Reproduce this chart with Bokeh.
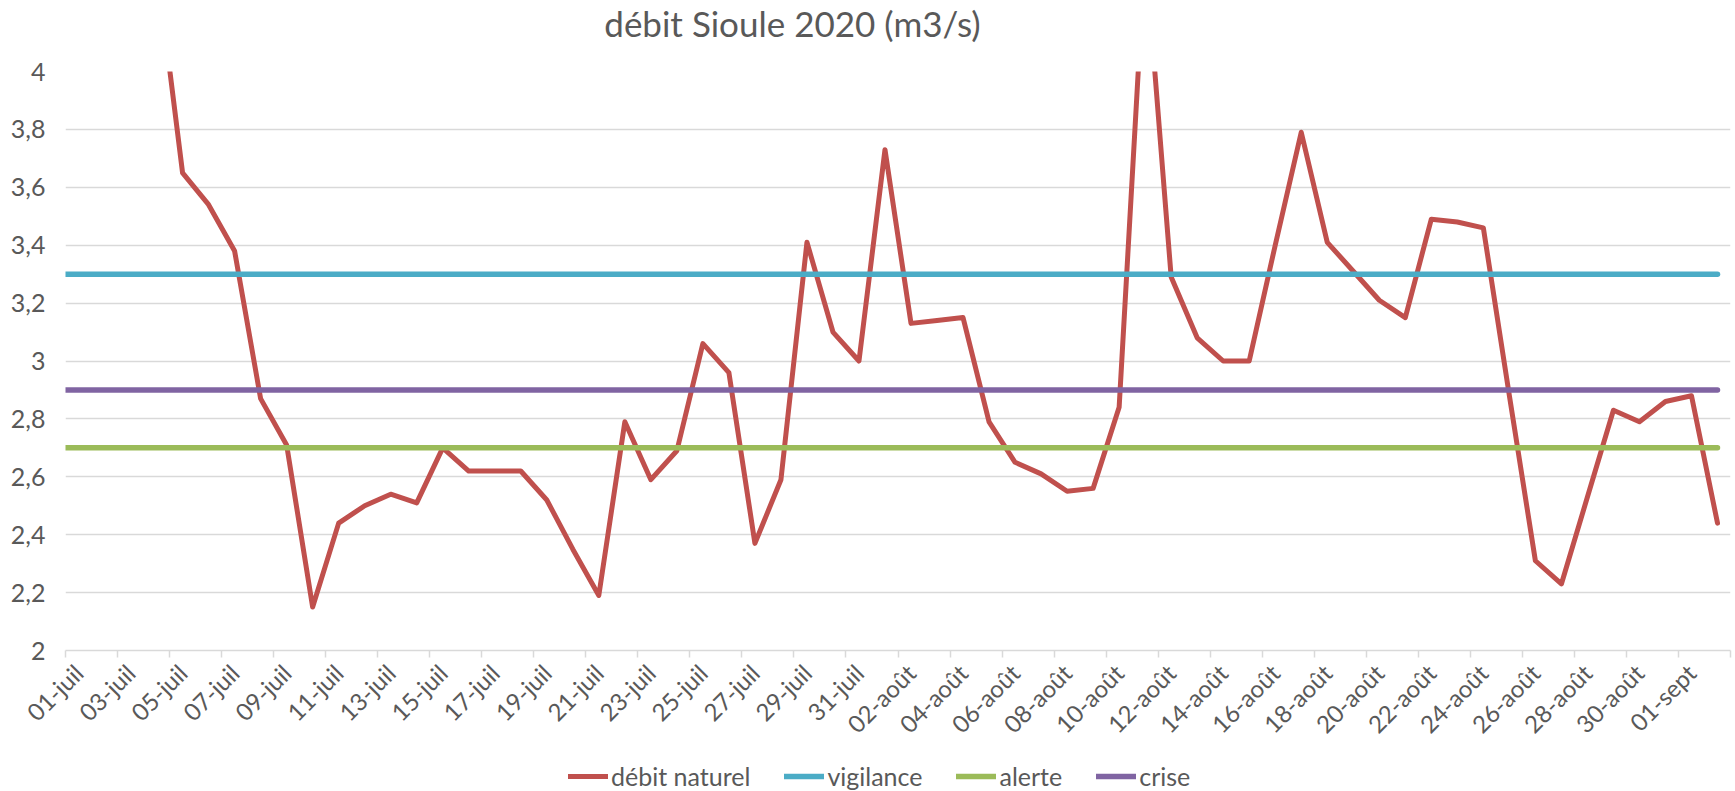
import math
from bokeh.plotting import figure
from bokeh.layouts import column
from bokeh.models import FixedTicker, Range1d, Legend, LegendItem, Label
from bokeh.embed import file_html
from bokeh.resources import INLINE

# ---- data ----
months = [("juil", 31), ("août", 31), ("sept", 2)]
dates = [f"{d:02d}-{m}" for m, n in months for d in range(1, n + 1)]

debit_naturel = [4.95, 4.80, 4.60, 4.37, 3.65, 3.54, 3.38, 2.87, 2.71, 2.15,
                 2.44, 2.50, 2.54, 2.51, 2.70, 2.62, 2.62, 2.62, 2.52, 2.35,
                 2.19, 2.79, 2.59, 2.69, 3.06, 2.96, 2.37, 2.59, 3.41, 3.10,
                 3.00, 3.73, 3.13, 3.14, 3.15, 2.79, 2.65, 2.61, 2.55, 2.56,
                 2.84, 4.42, 3.29, 3.08, 3.00, 3.00, 3.40, 3.79, 3.41, 3.31,
                 3.21, 3.15, 3.49, 3.48, 3.46, 2.88, 2.31, 2.23, 2.53, 2.83,
                 2.79, 2.86, 2.88, 2.44]
vigilance = 3.3
alerte = 2.7
crise = 2.9

y_ticks = [2.0, 2.2, 2.4, 2.6, 2.8, 3.0, 3.2, 3.4, 3.6, 3.8, 4.0]
y_tick_labels = ["2", "2,2", "2,4", "2,6", "2,8", "3", "3,2", "3,4", "3,6", "3,8", "4"]

title_text = "débit Sioule 2020 (m3/s)"
series_names = ["débit naturel", "vigilance", "alerte", "crise"]
colors = ["#C0504D", "#4BACC6", "#9BBB59", "#8064A2"]
widths = [5, 5.5, 5.5, 5.5]

TEXT = "#595959"
GRID = "#d9d9d9"
FONT = "Lato"
W = 1735

n = len(dates)
x = list(range(n))
threshold_series = [[v] * n for v in (vigilance, alerte, crise)]


def strip(h, xr, yr):
    f = figure(width=W, height=h, x_range=xr, y_range=yr,
               output_backend="svg", toolbar_location=None,
               x_axis_location=None, y_axis_location=None, min_border=0)
    f.outline_line_color = None
    f.xgrid.visible = False
    f.ygrid.visible = False
    f.border_fill_color = "white"
    return f


# ---- title strip (its frame is aligned with the chart's plot area: 65..1730 px) ----
pt = strip(48, Range1d(65, 1730), Range1d(0, 48))
pt.add_layout(Label(x=792, y=26, text=title_text, text_align="center", text_baseline="middle",
                    text_font=FONT, text_font_size="35px", text_color=TEXT))

# ---- main chart ----
p = figure(width=W, height=703, x_range=Range1d(-0.5, n - 0.5), y_range=Range1d(2, 4),
           output_backend="svg", toolbar_location=None,
           min_border_left=65, min_border_right=5, min_border_top=23, min_border_bottom=100)
p.outline_line_color = None
p.background_fill_color = "white"
p.border_fill_color = "white"
xa = p.below[0]
ya = p.left[0]

p.line(x, debit_naturel, line_color=colors[0], line_width=widths[0],
       line_join="round", line_cap="round")
for val, col, w in zip([vigilance, alerte, crise], colors[1:], widths[1:]):
    p.segment(x0=-1, x1=n - 1, y0=val, y1=val, line_color=col, line_width=w,
              line_cap="round")

xa.ticker = FixedTicker(ticks=list(range(0, n, 2)),
                        minor_ticks=[i - 0.5 for i in range(0, n + 1, 2)])
xa.major_label_overrides = {i: dates[i] for i in range(0, n, 2)}
xa.major_label_orientation = math.pi / 4
xa.major_tick_line_color = None
xa.major_tick_in = 0
xa.major_tick_out = 0
xa.minor_tick_in = 0
xa.minor_tick_out = 7
xa.minor_tick_line_color = GRID
xa.minor_tick_line_width = 1.5
xa.axis_line_color = GRID
xa.axis_line_width = 1.5
xa.major_label_text_font = FONT
xa.major_label_text_font_size = "24px"
xa.major_label_text_color = TEXT
xa.major_label_standoff = 11

ya.ticker = FixedTicker(ticks=y_ticks)
ya.major_label_overrides = {t: l for t, l in zip(y_ticks, y_tick_labels)}
ya.axis_line_color = None
ya.major_tick_line_color = None
ya.minor_tick_line_color = None
ya.major_tick_in = 0
ya.major_tick_out = 0
ya.major_label_text_font = FONT
ya.major_label_text_font_size = "25px"
ya.major_label_text_color = TEXT
ya.major_label_standoff = 20

p.xgrid.visible = False
p.ygrid.ticker = FixedTicker(ticks=y_ticks)
p.ygrid.grid_line_color = GRID
p.ygrid.grid_line_width = 1.5

# ---- legend strip: series drawn outside its visible range, only swatches show ----
pl = strip(40, Range1d(0, 1), Range1d(-1, 0))
items = []
for nm, col, w, ys in zip(series_names, colors, widths, [debit_naturel] + threshold_series):
    r = pl.line(x, ys, line_color=col, line_width=w, line_cap="round")
    items.append(LegendItem(label=nm, renderers=[r]))
legend = Legend(items=items, orientation="horizontal", location=(503, 0))
legend.label_text_font = FONT
legend.label_text_font_size = "25px"
legend.label_text_color = TEXT
legend.glyph_width = 40
legend.glyph_height = 22
legend.label_standoff = 3
legend.spacing = 34
legend.padding = 0
legend.margin = 0
legend.border_line_color = None
legend.background_fill_alpha = 0
pl.add_layout(legend, "center")

layout = column(pt, p, pl, spacing=0)
open("out.html", "w").write(file_html(layout, INLINE))
